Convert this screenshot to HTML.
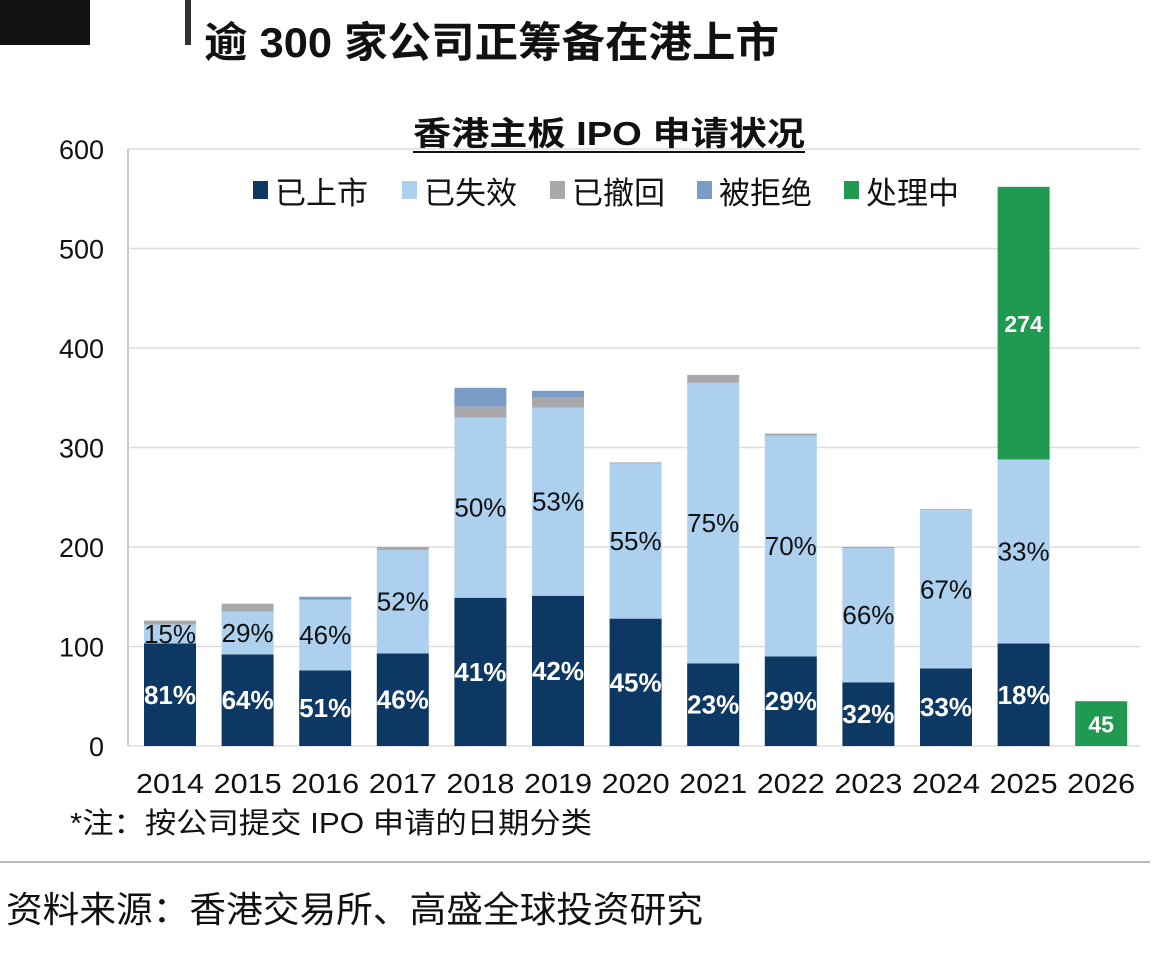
<!DOCTYPE html>
<html><head><meta charset="utf-8">
<style>
body{margin:0;background:#fff;width:1170px;height:955px;overflow:hidden;font-family:"Liberation Sans","Noto Sans CJK SC",sans-serif;}
svg text{font-family:"Liberation Sans","Noto Sans CJK SC",sans-serif;}
</style></head><body>
<svg width="1170" height="955">
<rect x="0" y="0" width="90" height="45" fill="#111"/>
<rect x="185" y="0" width="6" height="45" fill="#333"/>
<text x="204" y="57" font-size="42" font-weight="bold" fill="#111" textLength="575" lengthAdjust="spacingAndGlyphs">逾 300 家公司正筹备在港上市</text>
<text x="413" y="145" font-size="33" font-weight="bold" fill="#111" textLength="392" lengthAdjust="spacingAndGlyphs">香港主板 IPO 申请状况</text>
<line x1="413" y1="152" x2="805" y2="152" stroke="#111" stroke-width="2"/>
<g id="grid"></g>
<g id="bars"></g>
<g id="legend"></g>
<text x="70" y="833" font-size="29" fill="#111" textLength="522" lengthAdjust="spacingAndGlyphs">*注：按公司提交 IPO 申请的日期分类</text>
<line x1="0" y1="862" x2="1150" y2="862" stroke="#bbb" stroke-width="2"/>
<text x="6" y="922" font-size="36" fill="#111" textLength="697" lengthAdjust="spacingAndGlyphs">资料来源：香港交易所、高盛全球投资研究</text>
</svg>
<script>
const years=["2014","2015","2016","2017","2018","2019","2020","2021","2022","2023","2024","2025","2026"];
const listed=[103,92,76,93,149,151,128,83,90,64,78,103,0];
const failed=[19,43,71,104,181,189,156,282,222,135,159,185,0];
const withdrawn=[4,8,0,3,11,10,1,8,2,1,1,0,0];
const rejected=[0,0,3,0,19,7,0,0,0,0,0,0,0];
const processing=[0,0,0,0,0,0,0,0,0,0,0,274,45];
const listedPct=["81%","64%","51%","46%","41%","42%","45%","23%","29%","32%","33%","18%",""];
const failedPct=["15%","29%","46%","52%","50%","53%","55%","75%","70%","66%","67%","33%",""];
const yTicks=[0,100,200,300,400,500,600];
const NS="http://www.w3.org/2000/svg";
const y0=746,scale=597/600;
const yPos=v=>y0-v*scale;
const xPos=i=>170+i*77.6;
const bw=52;
function mk(tag,attrs,parent){const e=document.createElementNS(NS,tag);for(const k in attrs)e.setAttribute(k,attrs[k]);parent.appendChild(e);return e;}
const grid=document.getElementById('grid'),bars=document.getElementById('bars');
yTicks.forEach(t=>{
 const l=mk('line',{x1:128,x2:1140,y1:yPos(t),y2:yPos(t),stroke:'#ddd','stroke-width':1.5},grid);
 
 
 const tx=mk('text',{x:104,y:yPos(t)+10,'font-size':27,'text-anchor':'end',fill:'#111'},grid);
 tx.textContent=t;
 
 
});
const ax=mk('line',{x1:128,x2:128,y1:149,y2:746,stroke:'#ccc','stroke-width':2},grid);


const series=[[listed,'#0e3864','listed'],[failed,'#acd0ee','failed'],[withdrawn,'#a9a9ad','withdrawn'],[rejected,'#7c9cc8','rejected'],[processing,'#1f9a50','processing']];
years.forEach((yr,i)=>{
 let base=0;const cx=xPos(i);
 series.forEach(([arr,col,nm])=>{
  const v=arr[i];if(v<=0)return;
  const r=mk('rect',{x:cx-bw/2,y:yPos(base+v),width:bw,height:v*scale,fill:col},bars);
  
  
  let label=null,fill='#fff';
  if(nm==='listed')label=listedPct[i];
  if(nm==='failed'){label=failedPct[i];fill='#111';}
  if(nm==='processing')label=String(v);
  if(label){
   const t=mk('text',{x:cx,y:yPos(base+v/2)+9,'font-size':nm==='processing'?23:26,'font-weight':nm==='failed'?'normal':'bold','text-anchor':'middle',fill:fill},bars);
   t.textContent=label;
   
   
  }
  base+=v;
 });
 const xl=mk('text',{x:cx,y:793,'font-size':28,'text-anchor':'middle',fill:'#111',textLength:68,lengthAdjust:'spacingAndGlyphs'},bars);
 xl.textContent=yr;
 
 
});
const leg=document.getElementById('legend');
const legItems=[['已上市','#0e3864',253],['已失效','#acd0ee',402],['已撤回','#a9a9ad',550],['被拒绝','#7c9cc8',697],['处理中','#1f9a50',844]];
legItems.forEach(([nm,col,x])=>{
 const r=mk('rect',{x:x,y:181,width:15,height:18,fill:col},leg);
 
 
 const t=mk('text',{x:x+22,y:204,'font-size':31,fill:'#111'},leg);
 t.textContent=nm;
 
 
});
</script>
</body></html>
